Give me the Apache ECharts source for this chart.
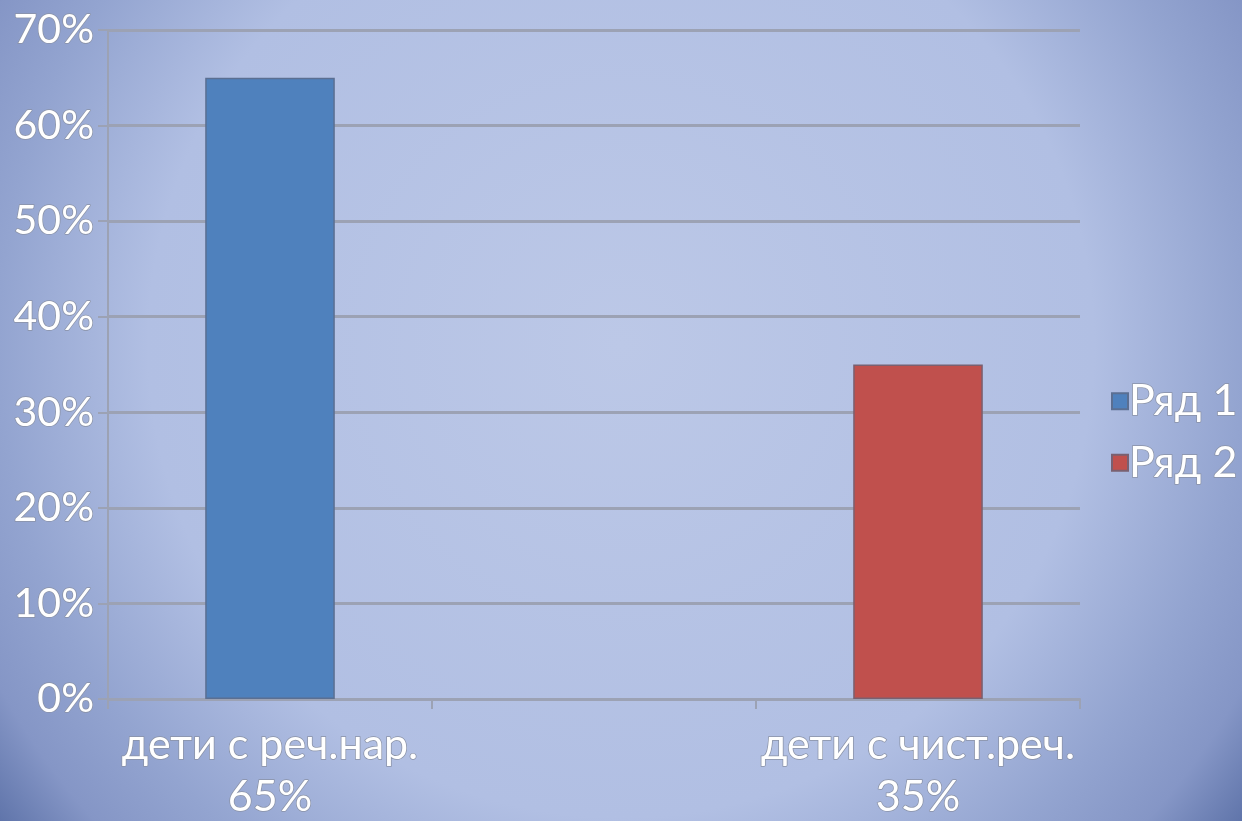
<!DOCTYPE html>
<html>
<head>
<meta charset="utf-8">
<script src="https://cdn.jsdelivr.net/npm/echarts@6/dist/echarts.min.js"></script>
<style>
	html, body { margin: 0; padding: 0; }
	#chart { width: 1242px; height: 821px; }
</style>
</head>
<body>
<div id="chart"></div>
<script>
	// data
	const categories = ['дети с реч.нар.\n65%', '', 'дети с чист.реч.\n35%']
	const seriesNames = ['Ряд 1', 'Ряд 2']
	const row1 = [65, null, null]
	const row2 = [null, null, 35]
	const yTicks = [0, 10, 20, 30, 40, 50, 60, 70]

	const textColor = '#ffffff'
	const outline = '#8a92a6'
	const gridColor = '#9ca2b4'

	const chart = echarts.init(document.getElementById('chart'))

	chart.setOption({
		backgroundColor: {
			type: 'radial',
			x: 0.5, y: 0.42, r: 0.96,
			colorStops: [
				{ offset: 0, color: '#bcc8e7' },
				{ offset: 0.6, color: '#b1bfe3' },
				{ offset: 0.79, color: '#93a4d0' },
				{ offset: 0.9, color: '#8596c6' },
				{ offset: 1, color: '#5d72a8' }
			]
		},
		textStyle: { fontFamily: 'Lato, "Open Sans", sans-serif' },
		legend: {
			orient: 'vertical',
			left: 1106,
			top: 374,
			itemWidth: 16,
			itemHeight: 16,
			itemGap: 17,
			icon: 'rect',
			data: seriesNames,
			textStyle: {
				color: textColor,
				fontSize: 43,
				lineHeight: 44,
				textBorderColor: outline,
				textBorderWidth: 1.5,
				padding: [0, 0, 0, -4]
			}
		},
		grid: {
			left: 108,
			right: 162,
			top: 30,
			bottom: 122,
			outerBoundsMode: 'none'
		},
		xAxis: {
			type: 'category',
			data: categories,
			axisLine: { show: true, lineStyle: { color: gridColor, width: 2 } },
			axisTick: { show: true, interval: 0, length: 10, lineStyle: { color: gridColor, width: 2 } },
			axisLabel: {
				interval: 0,
				color: textColor,
				fontSize: 43,
				lineHeight: 52,
				margin: 20,
				textBorderColor: outline,
				textBorderWidth: 1.5
			}
		},
		yAxis: {
			type: 'value',
			min: yTicks[0],
			max: yTicks[yTicks.length - 1],
			interval: 10,
			axisLine: { show: true, lineStyle: { color: gridColor, width: 2 } },
			axisTick: { show: true, length: 10, lineStyle: { color: gridColor, width: 2 } },
			splitLine: { show: true, lineStyle: { color: gridColor, width: 3 } },
			axisLabel: {
				color: textColor,
				fontSize: 41,
				margin: 14,
				formatter: '{value}%',
				textBorderColor: outline,
				textBorderWidth: 1.5
			}
		},
		series: [{
			name: seriesNames[0],
			type: 'bar',
			stack: 'all',
			barWidth: '40%',
			data: row1,
			itemStyle: { color: '#4f81bd', borderColor: '#5b6f92', borderWidth: 1.5 }
		}, {
			name: seriesNames[1],
			type: 'bar',
			stack: 'all',
			barWidth: '40%',
			data: row2,
			itemStyle: { color: '#c0504d', borderColor: '#7a6070', borderWidth: 1.5 }
		}]
	})
</script>
</body>
</html>
